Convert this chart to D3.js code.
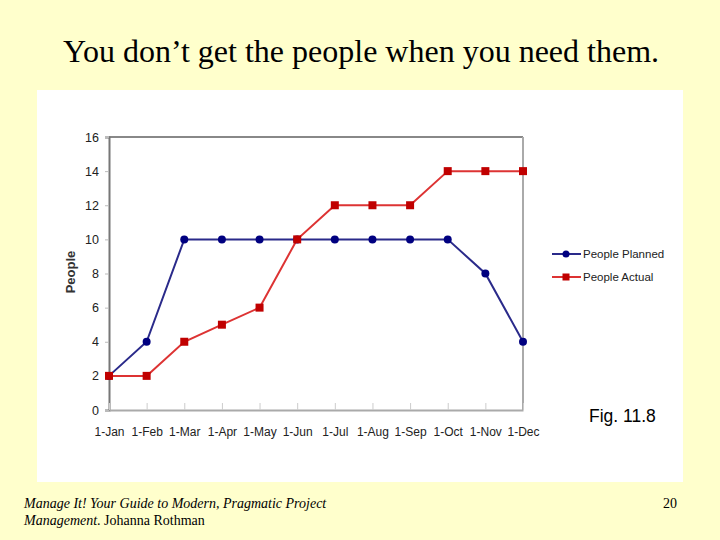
<!DOCTYPE html>
<html>
<head>
<meta charset="utf-8">
<script src="https://cdn.jsdelivr.net/npm/d3@7"></script>
<style>
  body { margin: 0; background: #ffffcc; }
</style>
</head>
<body>
<div id="chart"></div>
<script>
  var months = ["1-Jan","1-Feb","1-Mar","1-Apr","1-May","1-Jun","1-Jul","1-Aug","1-Sep","1-Oct","1-Nov","1-Dec"];
  var planned = [2,4,10,10,10,10,10,10,10,10,8,4];
  var actual = [2,2,4,5,6,10,12,12,12,14,14,14];
  var yTicks = [0,2,4,6,8,10,12,14,16];

  var svg = d3.select("#chart")
    .append("svg")
    .attr("width", 720)
    .attr("height", 540);

  svg.append("rect")
    .attr("width", 720).attr("height", 540)
    .attr("fill", "#ffffcc");

  svg.append("text")
    .attr("x", 361)
    .attr("y", 62)
    .attr("text-anchor", "middle")
    .style("font-family", "'Liberation Serif', 'Times New Roman', serif")
    .style("font-size", "32px")
    .text("You don\u2019t get the people when you need them.");

  // white picture panel
  svg.append("rect")
    .attr("x", 37).attr("y", 90)
    .attr("width", 646).attr("height", 392)
    .attr("fill", "#ffffff");

  var x = d3.scalePoint().domain(months).range([109, 523]);
  var y = d3.scaleLinear().domain([0, 16]).range([410, 137]);

  var g = svg.append("g");

  // plot area border
  g.append("line").attr("x1", 109).attr("x2", 523).attr("y1", 137).attr("y2", 137)
    .attr("stroke", "#888").attr("stroke-width", 2);
  g.append("line").attr("x1", 523).attr("x2", 523).attr("y1", 137).attr("y2", 410)
    .attr("stroke", "#aaa").attr("stroke-width", 2);

  var yAxis = g.append("g")
    .attr("transform", "translate(109,0)")
    .call(d3.axisLeft(y).tickValues(yTicks).tickSize(4).tickPadding(6));
  yAxis.select(".domain").attr("stroke", "#777").attr("stroke-width", 2);
  yAxis.selectAll(".tick line").attr("stroke", "#bbb");
  yAxis.selectAll("text")
    .style("font-family", "'Liberation Sans', Arial, sans-serif")
    .style("font-size", "12.5px")
    .attr("fill", "#222");

  var xAxis = g.append("g")
    .attr("transform", "translate(0,410)")
    .call(d3.axisBottom(x).tickSizeInner(-7).tickSizeOuter(0).tickPadding(17));
  xAxis.select(".domain").attr("stroke", "#aaa").attr("stroke-width", 2);
  xAxis.selectAll(".tick line").attr("stroke", "#ccc");
  xAxis.selectAll("text")
    .style("font-family", "'Liberation Sans', Arial, sans-serif")
    .style("font-size", "12px")
    .attr("fill", "#222");

  svg.append("text")
    .attr("transform", "translate(75,272) rotate(-90)")
    .attr("text-anchor", "middle")
    .style("font-family", "'Liberation Sans', Arial, sans-serif")
    .style("font-size", "13px")
    .style("font-weight", "bold")
    .attr("fill", "#333")
    .text("People");

  var line = d3.line()
    .x(function(d, i) { return x(months[i]); })
    .y(function(d) { return y(d); });

  g.append("path").datum(planned)
    .attr("d", line)
    .attr("fill", "none")
    .attr("stroke", "#2a2a8a")
    .attr("stroke-width", 2);

  g.append("path").datum(actual)
    .attr("d", line)
    .attr("fill", "none")
    .attr("stroke", "#dd3333")
    .attr("stroke-width", 2);

  g.selectAll(".pdot").data(planned).enter()
    .append("circle")
    .attr("cx", function(d, i) { return x(months[i]); })
    .attr("cy", function(d) { return y(d); })
    .attr("r", 4)
    .attr("fill", "#000080");

  g.selectAll(".asq").data(actual).enter()
    .append("rect")
    .attr("x", function(d, i) { return x(months[i]) - 4; })
    .attr("y", function(d) { return y(d) - 4; })
    .attr("width", 8).attr("height", 8)
    .attr("fill", "#c00000");

  // legend
  var legend = svg.append("g");
  var items = [
    {name: "People Planned", color: "#2a2a8a", mark: "#000080", type: "circle", yy: 254},
    {name: "People Actual", color: "#dd3333", mark: "#c00000", type: "rect", yy: 277}
  ];
  items.forEach(function(it) {
    legend.append("line")
      .attr("x1", 552).attr("x2", 581).attr("y1", it.yy).attr("y2", it.yy)
      .attr("stroke", it.color).attr("stroke-width", 2);
    if (it.type == "circle") {
      legend.append("circle").attr("cx", 566).attr("cy", it.yy).attr("r", 3.5).attr("fill", it.mark);
    } else {
      legend.append("rect").attr("x", 562.5).attr("y", it.yy - 3.5).attr("width", 7).attr("height", 7).attr("fill", it.mark);
    }
    legend.append("text")
      .attr("x", 583).attr("y", it.yy + 4)
      .style("font-family", "'Liberation Sans', Arial, sans-serif")
      .style("font-size", "11.5px")
      .attr("fill", "#222")
      .text(it.name);
  });

  svg.append("text")
    .attr("x", 589).attr("y", 422)
    .style("font-family", "'Liberation Sans', Arial, sans-serif")
    .style("font-size", "17.5px")
    .text("Fig. 11.8");

  // footer
  var foot = svg.append("text")
    .attr("x", 24).attr("y", 508)
    .style("font-family", "'Liberation Serif', 'Times New Roman', serif")
    .style("font-size", "14px");
  foot.append("tspan").style("font-style", "italic")
    .text("Manage It! Your Guide to Modern, Pragmatic Project");
  var foot2 = svg.append("text")
    .attr("x", 24).attr("y", 525)
    .style("font-family", "'Liberation Serif', 'Times New Roman', serif")
    .style("font-size", "14px");
  foot2.append("tspan").style("font-style", "italic").text("Management");
  foot2.append("tspan").text(". Johanna Rothman");

  svg.append("text")
    .attr("x", 677).attr("y", 508)
    .attr("text-anchor", "end")
    .style("font-family", "'Liberation Serif', 'Times New Roman', serif")
    .style("font-size", "14px")
    .text("20");
</script>
</body>
</html>
